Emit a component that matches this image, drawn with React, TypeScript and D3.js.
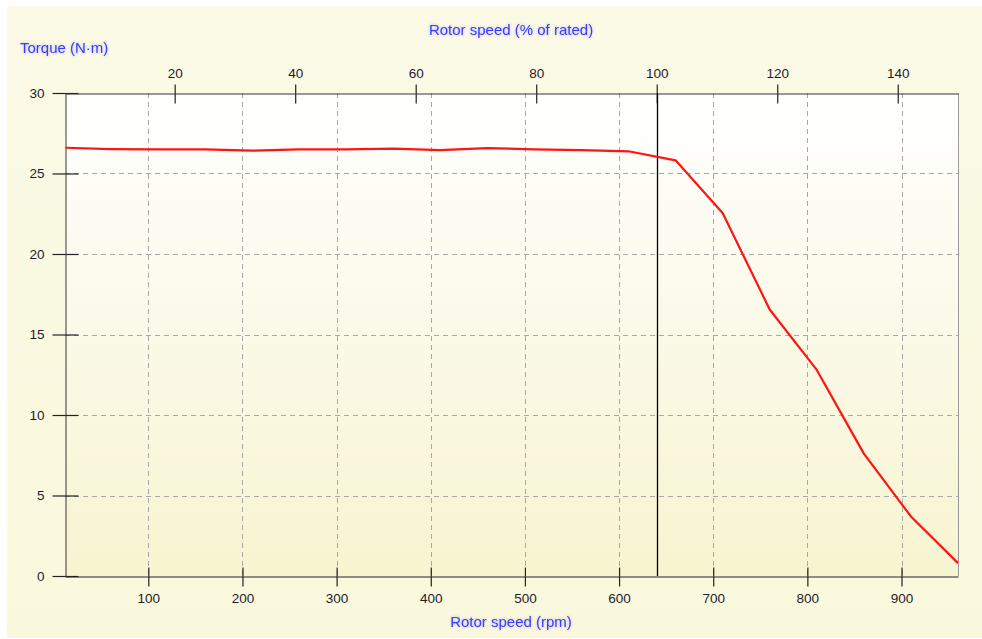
import React, { useEffect, useRef } from "react";
import * as d3 from "d3";

// Motor torque/speed characteristic
const rotorSpeedRpm = [12, 60, 110, 160, 210, 260, 310, 360, 410, 460, 510, 560, 610, 660, 710, 760, 810, 860, 910, 960];
const torqueNm = [26.6, 26.52, 26.5, 26.5, 26.42, 26.5, 26.5, 26.55, 26.45, 26.58, 26.5, 26.45, 26.38, 25.82, 22.55, 16.55, 12.8, 7.6, 3.7, 0.8];

const ratedSpeedRpm = 640;
const rpmTicks = [100, 200, 300, 400, 500, 600, 700, 800, 900];
const percentTicks = [20, 40, 60, 80, 100, 120, 140];
const torqueTicks = [0, 5, 10, 15, 20, 25, 30];
const rpmDomain = [11.5, 960];

const W = 982;
const H = 639;
const plot = { left: 65, right: 958, top: 93, bottom: 576 };
const FONT = "'Liberation Sans', Arial, sans-serif";
const TITLE_COLOR = "#3a3aff";

export default function App() {
  const ref = useRef<SVGSVGElement | null>(null);

  useEffect(() => {
    const svg = d3.select(ref.current);
    svg.selectAll("*").remove();

    const x = d3.scaleLinear().domain(rpmDomain).range([plot.left, plot.right]);
    const xPct = d3
      .scaleLinear()
      .domain(rpmDomain.map((r) => (r / ratedSpeedRpm) * 100))
      .range([plot.left, plot.right]);
    const y = d3.scaleLinear().domain([0, 30]).range([plot.bottom, plot.top]);

    const defs = svg.append("defs");
    const bg = defs.append("linearGradient").attr("id", "panelBg").attr("x1", 0).attr("y1", 0).attr("x2", 0).attr("y2", 1);
    bg.append("stop").attr("offset", "0%").attr("stop-color", "#fbfae6");
    bg.append("stop").attr("offset", "100%").attr("stop-color", "#faf8dc");
    const pg = defs.append("linearGradient").attr("id", "plotBg").attr("x1", 0).attr("y1", 0).attr("x2", 0).attr("y2", 1);
    pg.append("stop").attr("offset", "0%").attr("stop-color", "#ffffff");
    pg.append("stop").attr("offset", "100%").attr("stop-color", "#f7f4d0");
    const glow = defs.append("filter").attr("id", "glow").attr("x", "-10%").attr("y", "-50%").attr("width", "120%").attr("height", "200%");
    glow.append("feGaussianBlur").attr("in", "SourceGraphic").attr("stdDeviation", 1.6).attr("result", "b");
    glow.append("feComponentTransfer").attr("in", "b").attr("result", "bf")
      .append("feFuncA").attr("type", "linear").attr("slope", 0.35);
    const merge = glow.append("feMerge");
    merge.append("feMergeNode").attr("in", "bf");
    merge.append("feMergeNode").attr("in", "SourceGraphic");

    svg.append("rect").attr("width", W).attr("height", H).attr("fill", "#ffffff");
    svg.append("rect").attr("x", 7).attr("y", 6).attr("width", W - 7).attr("height", H - 7).attr("fill", "url(#panelBg)");
    svg.append("rect")
      .attr("x", plot.left).attr("y", plot.top)
      .attr("width", plot.right - plot.left).attr("height", plot.bottom - plot.top)
      .attr("fill", "url(#plotBg)");

    // dashed grid
    const grid = svg.append("g").attr("stroke", "#a8a8a8").attr("stroke-width", 1).attr("stroke-dasharray", "5,4");
    grid.selectAll("line.v").data(rpmTicks).join("line")
      .attr("x1", (d) => Math.round(x(d)) + 0.5).attr("x2", (d) => Math.round(x(d)) + 0.5)
      .attr("y1", plot.top).attr("y2", plot.bottom);
    grid.selectAll("line.h").data(torqueTicks.filter((t) => t > 0 && t < 30)).join("line")
      .attr("y1", (d) => Math.round(y(d)) + 0.5).attr("y2", (d) => Math.round(y(d)) + 0.5)
      .attr("x1", plot.left).attr("x2", plot.right);

    // plot frame
    svg.append("line").attr("x1", plot.right + 0.5).attr("x2", plot.right + 0.5).attr("y1", plot.top).attr("y2", plot.bottom)
      .attr("stroke", "#9a9a9a");

    const styleAxis = (g: d3.Selection<SVGGElement, unknown, null, undefined>, color: string) => {
      g.selectAll(".domain").attr("stroke", color).attr("stroke-width", 1.2);
      g.selectAll(".tick line").attr("stroke", "#222").attr("stroke-width", 1.2);
      g.selectAll(".tick text").attr("fill", "#1c1c30").attr("font-family", FONT).attr("font-size", 13.5);
    };

    // left axis (ticks cross the axis line)
    const gl = svg.append("g").attr("transform", `translate(${plot.left + 0.5},0)`)
      .call(d3.axisLeft(y).tickValues(torqueTicks).tickSizeInner(13).tickSizeOuter(0).tickPadding(8).tickFormat(d3.format("d")));
    gl.selectAll(".tick").append("line").attr("x2", 13).attr("stroke", "#222").attr("stroke-width", 1.2);
    styleAxis(gl, "#555");

    // bottom axis
    const gb = svg.append("g").attr("transform", `translate(0,${plot.bottom + 0.5})`)
      .call(d3.axisBottom(x).tickValues(rpmTicks).tickSizeInner(10).tickSizeOuter(0).tickPadding(7).tickFormat(d3.format("d")));
    gb.selectAll(".tick").append("line").attr("y2", -9).attr("stroke", "#222").attr("stroke-width", 1.2);
    styleAxis(gb, "#222");

    // top axis: percent of rated speed
    const gt = svg.append("g").attr("transform", `translate(0,${plot.top + 0.5})`)
      .call(d3.axisTop(xPct).tickValues(percentTicks).tickSizeInner(9).tickSizeOuter(0).tickPadding(7).tickFormat(d3.format("d")));
    gt.selectAll(".tick").append("line").attr("y2", 10).attr("stroke", "#222").attr("stroke-width", 1.2);
    styleAxis(gt, "#333");

    // rated speed marker
    svg.append("line")
      .attr("x1", Math.round(x(ratedSpeedRpm)) + 0.5).attr("x2", Math.round(x(ratedSpeedRpm)) + 0.5)
      .attr("y1", plot.top).attr("y2", plot.bottom)
      .attr("stroke", "#000").attr("stroke-width", 1.3);

    // torque curve
    const pts: [number, number][] = rotorSpeedRpm.map((r, i) => [r, torqueNm[i]]);
    const line = d3.line<[number, number]>().x((d) => x(d[0])).y((d) => y(d[1]));
    svg.append("path").datum(pts).attr("d", line)
      .attr("fill", "none").attr("stroke", "#ff1414").attr("stroke-width", 2.2)
      .attr("stroke-linejoin", "round");

    // axis titles
    const title = (tx: number, ty: number, text: string, anchor: string) =>
      svg.append("text").attr("x", tx).attr("y", ty).attr("text-anchor", anchor)
        .attr("font-family", FONT).attr("font-size", 15).attr("fill", TITLE_COLOR)
        .attr("filter", "url(#glow)").text(text);
    title(20, 53, "Torque (N·m)", "start");
    title(511, 35, "Rotor speed (% of rated)", "middle");
    title(511, 627, "Rotor speed (rpm)", "middle");
  }, []);

  return (
    <svg
      ref={ref}
      width={W}
      height={H}
      style={{ position: "absolute", left: 0, top: 0, display: "block" }}
    />
  );
}
